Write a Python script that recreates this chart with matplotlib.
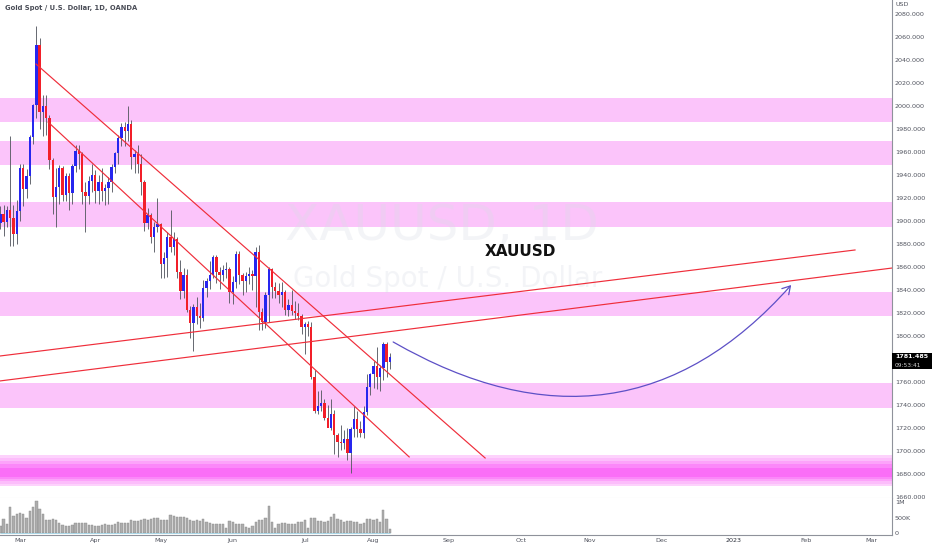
import pandas as pd
import matplotlib
matplotlib.use('Agg')
import matplotlib.pyplot as plt
from matplotlib.path import Path
from matplotlib.patches import FancyArrowPatch, Rectangle

plt.rcParams['font.family'] = ['DejaVu Sans']

# daily bars, Feb 21 2022 .. Aug 8 2022 (no bar on Good Friday)
opens = [1898, 1906, 1899, 1910, 1903, 1889, 1909, 1946, 1928, 1939,
         1973, 2001, 2053, 1995, 2000, 1990, 1953, 1921, 1930, 1946,
         1923, 1939, 1924, 1948, 1961, 1958, 1925, 1922, 1935, 1940,
         1926, 1934, 1926, 1929, 1934, 1947, 1959, 1972, 1982, 1978,
         1984, 1956, 1958, 1950, 1934, 1898, 1905, 1886, 1895, 1897,
         1863, 1868, 1886, 1877, 1884, 1856, 1839, 1853, 1823, 1811,
         1825, 1817, 1816, 1842, 1848, 1853, 1869, 1856, 1853, 1857,
         1858, 1838, 1847, 1871, 1853, 1848, 1852, 1854, 1852, 1873,
         1821, 1812, 1836, 1858, 1843, 1839, 1836, 1838, 1823, 1827,
         1822, 1820, 1817, 1808, 1810, 1808, 1764, 1735, 1739, 1742,
         1729, 1720, 1732, 1714, 1708, 1707, 1710, 1698, 1719, 1728,
         1719, 1716, 1734, 1756, 1767, 1774, 1764, 1772, 1793, 1777]
highs = [1913, 1914, 1913, 1974, 1914, 1918, 1950, 1950, 1945, 1975,
         2002, 2070, 2059, 2010, 2010, 1992, 1955, 1946, 1949, 1948,
         1942, 1942, 1950, 1966, 1966, 1960, 1934, 1939, 1950, 1944,
         1940, 1946, 1932, 1938, 1950, 1960, 1975, 1985, 1986, 2000,
         1988, 1962, 1966, 1958, 1936, 1911, 1907, 1899, 1920, 1898,
         1873, 1890, 1910, 1890, 1886, 1866, 1859, 1858, 1826, 1828,
         1834, 1829, 1849, 1850, 1865, 1870, 1870, 1860, 1862, 1864,
         1860, 1852, 1874, 1874, 1855, 1856, 1860, 1857, 1877, 1879,
         1824, 1838, 1860, 1859, 1847, 1846, 1847, 1840, 1832, 1840,
         1830, 1829, 1819, 1812, 1813, 1812, 1770, 1752, 1753, 1745,
         1740, 1745, 1736, 1716, 1723, 1718, 1720, 1721, 1739, 1735,
         1726, 1739, 1767, 1768, 1778, 1790, 1775, 1795, 1795, 1785]
lows = [1893, 1887, 1895, 1878, 1878, 1880, 1900, 1913, 1920, 1932,
        1967, 1990, 1980, 1974, 1975, 1945, 1906, 1895, 1915, 1917,
        1917, 1910, 1915, 1943, 1945, 1915, 1890, 1915, 1925, 1916,
        1915, 1917, 1914, 1915, 1925, 1942, 1950, 1965, 1965, 1970,
        1945, 1942, 1942, 1923, 1891, 1893, 1881, 1873, 1890, 1850,
        1850, 1851, 1873, 1870, 1850, 1832, 1833, 1821, 1798, 1787,
        1810, 1807, 1813, 1834, 1841, 1850, 1846, 1841, 1848, 1850,
        1829, 1828, 1842, 1845, 1836, 1838, 1845, 1840, 1825, 1805,
        1805, 1807, 1812, 1833, 1833, 1829, 1825, 1818, 1817, 1818,
        1815, 1814, 1802, 1784, 1800, 1763, 1733, 1732, 1735, 1727,
        1722, 1718, 1697, 1695, 1701, 1702, 1692, 1681, 1712, 1712,
        1712, 1711, 1731, 1749, 1755, 1754, 1752, 1762, 1764, 1771]
closes = [1906, 1899, 1910, 1903, 1889, 1909, 1946, 1928, 1939, 1973,
          2001, 2053, 1995, 2000, 1990, 1953, 1921, 1930, 1946, 1923,
          1939, 1924, 1948, 1961, 1958, 1925, 1922, 1935, 1940, 1926,
          1934, 1926, 1929, 1934, 1947, 1959, 1972, 1982, 1978, 1984,
          1956, 1958, 1950, 1934, 1898, 1905, 1886, 1895, 1897, 1863,
          1868, 1886, 1877, 1884, 1856, 1839, 1853, 1823, 1811, 1825,
          1817, 1816, 1842, 1848, 1853, 1869, 1856, 1853, 1857, 1858,
          1838, 1847, 1871, 1853, 1848, 1852, 1854, 1852, 1873, 1821,
          1812, 1836, 1858, 1843, 1839, 1836, 1838, 1823, 1827, 1822,
          1820, 1817, 1808, 1810, 1808, 1764, 1735, 1739, 1742, 1729,
          1720, 1732, 1714, 1708, 1707, 1710, 1698, 1719, 1728, 1719,
          1716, 1734, 1756, 1767, 1774, 1764, 1772, 1793, 1777, 1781.485]
# volume in millions
volume_m = [0.22, 0.46, 0.30, 0.84, 0.54, 0.62, 0.65, 0.60, 0.49, 0.70,
            0.84, 1.03, 0.78, 0.62, 0.43, 0.43, 0.46, 0.41, 0.32, 0.25,
            0.24, 0.23, 0.25, 0.31, 0.31, 0.33, 0.32, 0.26, 0.26, 0.24,
            0.22, 0.26, 0.30, 0.27, 0.26, 0.30, 0.34, 0.32, 0.32, 0.32,
            0.41, 0.40, 0.40, 0.43, 0.46, 0.43, 0.45, 0.48, 0.49, 0.41,
            0.41, 0.41, 0.59, 0.56, 0.52, 0.53, 0.52, 0.49, 0.43, 0.39,
            0.41, 0.39, 0.45, 0.34, 0.32, 0.30, 0.30, 0.29, 0.29, 0.15,
            0.38, 0.35, 0.30, 0.28, 0.28, 0.19, 0.17, 0.22, 0.34, 0.41,
            0.41, 0.49, 0.88, 0.34, 0.16, 0.30, 0.33, 0.32, 0.30, 0.28,
            0.30, 0.37, 0.35, 0.43, 0.17, 0.47, 0.49, 0.38, 0.38, 0.37,
            0.40, 0.52, 0.62, 0.45, 0.41, 0.37, 0.38, 0.39, 0.37, 0.34,
            0.28, 0.32, 0.45, 0.45, 0.43, 0.44, 0.37, 0.75, 0.44, 0.12]

last_price = 1781.485
countdown = '09:53:41'

# pink supply / demand zones
zone_lo = [1986, 1949, 1895, 1817, 1737]
zone_hi = [2007, 1970, 1916.5, 1838, 1759]
# strong base zone, drawn outer to inner
base_lo = [1669.6, 1671.5, 1673.5, 1675.5, 1677.5]
base_hi = [1696.5, 1694.0, 1691.0, 1688.5, 1685.5]
base_colors = ['#fdd2fc', '#fcbdfb', '#fca3fa', '#fb88f9', '#fa6ef7']

# drawings, anchors as (bar, price)
channel_top = [(10.9, 2036.5), (148.1, 1693.9)]
channel_bot = [(14.6, 1986.0), (124.9, 1694.8)]
rise_top = [(-0.11, 1782.6), (261.1, 1874.8)]
rise_bot = [(-0.11, 1760.9), (272.4, 1859.1)]
curve_pts = [(120.0, 1794.8), (190.2, 1680.0), (241.6, 1844.3)]

price_ticks = list(range(1660, 2081, 20))

# bar calendar incl. future space
days = pd.bdate_range('2022-02-21', '2023-03-31')
days = days[days != pd.Timestamp('2022-04-15')]
month_pos, month_lab = [], []
for i in range(1, len(days)):
    if days[i].month != days[i - 1].month:
        month_pos.append(i)
        month_lab.append(str(days[i].year) if days[i].month == 1 else days[i].strftime('%b'))

n = len(closes)
xs = list(range(n))
up_c = '#2626ef'
dn_c = '#f21f29'
line_c = '#ef2d3a'
grey_txt = '#50535e'

W, H = 932, 550
fig = plt.figure(figsize=(W / 100, H / 100), dpi=100)
ax = fig.add_axes([0, 1 - 498 / H, 892 / W, 498 / H])
axv = fig.add_axes([0, 1 - 535 / H, 892 / W, 37 / H], sharex=ax)

for lo, hi in zip(zone_lo, zone_hi):
    ax.axhspan(lo, hi, color='#fbc4fa', lw=0, zorder=0)
for lo, hi, c in zip(base_lo, base_hi, base_colors):
    ax.axhspan(lo, hi, color=c, lw=0, zorder=0)

# watermark
ax.text(0.496, 0.547, 'XAUUSD, 1D', transform=ax.transAxes, fontsize=36,
        color='#d9dde6', alpha=0.3, ha='center', va='center', zorder=0.5)
ax.text(0.502, 0.44, 'Gold Spot / U.S. Dollar', transform=ax.transAxes, fontsize=20,
        color='#d9dde6', alpha=0.3, ha='center', va='center', zorder=0.5)

# candles
body_lo = [min(o, c) for o, c in zip(opens, closes)]
body_h = [max(abs(c - o), 0.6) for o, c in zip(opens, closes)]
cols = [up_c if c >= o else dn_c for o, c in zip(opens, closes)]
ax.vlines(xs, lows, highs, color='#5a5d66', lw=0.65, zorder=2)
ax.bar(xs, body_h, bottom=body_lo, width=0.72, color=cols, lw=0, zorder=3)

# trend lines
for seg in (channel_top, channel_bot, rise_top, rise_bot):
    ax.plot([p[0] for p in seg], [p[1] for p in seg], color=line_c, lw=0.85, zorder=4)

curve = Path(curve_pts, [Path.MOVETO, Path.CURVE3, Path.CURVE3])
ax.add_patch(FancyArrowPatch(path=curve, arrowstyle='->,head_length=0.5,head_width=0.3',
                             mutation_scale=11, color='#5d50c6', lw=0.9, zorder=4))

ax.text(0.583, 1 - 252 / 498, 'XAUUSD', transform=ax.transAxes, fontsize=11,
        fontweight='bold', color='#111111', ha='center', va='center', zorder=5)

ax.set_xlim(-0.11, 272.4)
ax.set_ylim(1659.1, 2092.2)
ax.yaxis.tick_right()
ax.set_yticks(price_ticks)
ax.set_yticklabels([f'{p:.3f}' for p in price_ticks])
ax.tick_params(axis='y', length=0, pad=2, labelsize=4.6, labelcolor=grey_txt)
ax.tick_params(axis='x', length=0, labelbottom=False)
for s in ('top', 'left'):
    ax.spines[s].set_visible(False)
ax.spines['right'].set_color('#8f929b')
ax.spines['right'].set_linewidth(0.8)
ax.spines['bottom'].set_color('#e3e5ec')
ax.spines['bottom'].set_linewidth(0.8)

# volume pane
axv.bar(xs, volume_m, width=0.7, color='#adadad', edgecolor='#8a8a8a', lw=0.3, zorder=2)
axv.hlines(0, xs[0], xs[-1], color='#9fd3e6', lw=0.6, zorder=3)
axv.set_ylim(-0.065, 1.13)
axv.yaxis.tick_right()
axv.set_yticks([0, 0.5, 1.0])
axv.set_yticklabels(['0', '500K', '1M'])
axv.tick_params(axis='y', length=0, pad=2, labelsize=4.6, labelcolor=grey_txt)
axv.set_xticks(month_pos)
axv.set_xticklabels(month_lab)
axv.tick_params(axis='x', length=0, pad=2.2, labelsize=4.6, labelcolor=grey_txt)
for lab in axv.get_xticklabels():
    if lab.get_text().isdigit():
        lab.set_color('#2a2e39')
for s in ('top', 'left'):
    axv.spines[s].set_visible(False)
axv.spines['right'].set_color('#8f929b')
axv.spines['right'].set_linewidth(0.8)
axv.spines['bottom'].set_color('#8f929b')
axv.spines['bottom'].set_linewidth(0.8)

# header and axis extras
fig.text(5 / W, 1 - 8 / H, 'Gold Spot / U.S. Dollar, 1D, OANDA', fontsize=4.9,
         fontweight='bold', color='#4a4d57', ha='left', va='center')
fig.text(896 / W, 1 - 5 / H, 'USD', fontsize=4.6, color=grey_txt, ha='left', va='center',
         bbox=dict(facecolor='white', edgecolor='none', pad=0.6))

# last price label
py = 1 - (498 - (last_price - 1659.1) / (2092.2 - 1659.1) * 498) / H
fig.patches.append(Rectangle((892 / W, py - 12 / H), 40 / W, 16 / H, transform=fig.transFigure,
                             facecolor='black', edgecolor='none', zorder=5))
fig.text(895 / W, py + 0.5 / H, f'{last_price:.3f}', fontsize=4.6, fontweight='bold',
         color='white', ha='left', va='center', zorder=6)
fig.text(895 / W, py - 8 / H, countdown, fontsize=4.2, color='#d0d0d0',
         ha='left', va='center', zorder=6)

fig.savefig('out.png', dpi=100, facecolor='white')
